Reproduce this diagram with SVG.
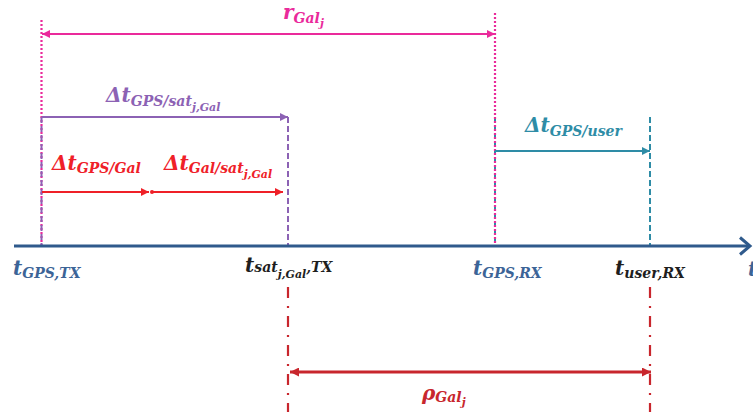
<svg xmlns="http://www.w3.org/2000/svg" width="753" height="412" viewBox="0 0 753 412">
<style>
.m{font-family:"DejaVu Serif","Liberation Serif",serif;font-weight:bold;font-style:italic;font-size:20px}
.s{font-size:14px}
.ss{font-size:11px}
.pink{stroke:#ea2a9b;fill:none}
.purple{stroke:#8c62b4;fill:none}
.red{stroke:#ef2028;fill:none}
.teal{stroke:#2e8ca6;fill:none}
.dred{stroke:#c8262d;fill:none}
.dot{stroke-width:2.2;stroke-dasharray:2 2}
.dash{stroke-width:2;stroke-dasharray:6 3}
.dd{stroke-width:2.2;stroke-dasharray:11 8 2 8}
.arr{stroke-width:2}
</style>
<defs>
<marker id="hPink" viewBox="0 0 10 10" refX="10" refY="5" markerWidth="9" markerHeight="8" markerUnits="userSpaceOnUse" orient="auto-start-reverse"><path d="M0,0 L10,5 L0,10 z" fill="#ea2a9b"/></marker>
<marker id="hPurple" viewBox="0 0 10 10" refX="10" refY="5" markerWidth="9" markerHeight="8" markerUnits="userSpaceOnUse" orient="auto-start-reverse"><path d="M0,0 L10,5 L0,10 z" fill="#8c62b4"/></marker>
<marker id="hRed" viewBox="0 0 10 10" refX="10" refY="5" markerWidth="9" markerHeight="8" markerUnits="userSpaceOnUse" orient="auto-start-reverse"><path d="M0,0 L10,5 L0,10 z" fill="#ef2028"/></marker>
<marker id="hTeal" viewBox="0 0 10 10" refX="10" refY="5" markerWidth="9" markerHeight="8" markerUnits="userSpaceOnUse" orient="auto-start-reverse"><path d="M0,0 L10,5 L0,10 z" fill="#2e8ca6"/></marker>
<marker id="hDred" viewBox="0 0 10 10" refX="10" refY="5" markerWidth="10" markerHeight="9" markerUnits="userSpaceOnUse" orient="auto-start-reverse"><path d="M0,0 L10,5 L0,10 z" fill="#c8262d"/></marker>
</defs>
<rect width="753" height="412" fill="#fff"/>

<g id="guides">
<line class="pink dot" x1="41.5" y1="20" x2="41.5" y2="246"/>
<line class="purple dash" x1="41.5" y1="117" x2="41.5" y2="246"/>
<line class="purple dash" x1="288" y1="117" x2="288" y2="246"/>
<line class="pink dot" x1="495" y1="13" x2="495" y2="246"/>
<line class="teal" stroke-width="2" stroke-dasharray="2 6" x1="495" y1="119" x2="495" y2="246"/>
<line class="teal dash" x1="650" y1="117" x2="650" y2="246"/>
<line class="dred dd" x1="288" y1="287" x2="288" y2="412"/>
<line class="dred dd" x1="650" y1="287" x2="650" y2="412"/>
</g>

<g id="axis">
<line x1="14" y1="246" x2="749" y2="246" stroke="#2f5a8c" stroke-width="3"/>
<polyline points="740,237.5 750,246 740,254.5" fill="none" stroke="#2f5a8c" stroke-width="3"/>
</g>

<g id="connectors">
<line class="pink arr" x1="42" y1="34" x2="495" y2="34" marker-start="url(#hPink)" marker-end="url(#hPink)"/>
<line class="purple arr" x1="42" y1="117" x2="288" y2="117" marker-end="url(#hPurple)"/>
<line class="red arr" x1="42" y1="192" x2="149" y2="192" marker-end="url(#hRed)"/>
<line class="red arr" x1="152" y1="192" x2="283" y2="192" marker-end="url(#hRed)"/>
<circle cx="152" cy="192" r="2" fill="#ef2028"/>
<line class="teal arr" x1="495" y1="151" x2="650" y2="151" marker-end="url(#hTeal)"/>
<line class="dred" stroke-width="3" x1="290" y1="372" x2="651" y2="372" marker-start="url(#hDred)" marker-end="url(#hDred)"/>
</g>

<g id="labels">
<text class="m" x="283" y="19" fill="#ea2a9b">r<tspan class="s" font-size="13" dy="4">Gal</tspan><tspan class="ss" font-size="10" dy="4">j</tspan></text>
<text class="m" x="106" y="102" fill="#8c62b4">Δt<tspan class="s" dy="4">GPS/sat</tspan><tspan class="ss" dy="5">j,Gal</tspan></text>
<text class="m" x="52" y="170" fill="#ef2028">Δt<tspan class="s" dy="3">GPS/Gal</tspan></text>
<text class="m" x="164" y="170" fill="#ef2028">Δt<tspan class="s" dy="3">Gal/sat</tspan><tspan class="ss" dy="5">j,Gal</tspan></text>
<text class="m" x="525" y="132" fill="#2e8ca6">Δt<tspan class="s" dy="4">GPS/user</tspan></text>
<text class="m" x="13" y="275" fill="#3c6497">t<tspan class="s" dy="3">GPS,TX</tspan></text>
<text class="m" x="245" y="272" fill="#1e1e1e">t<tspan class="s" dy="0">sat</tspan><tspan class="ss" dy="6">j,Gal</tspan><tspan class="s" dy="-6">,TX</tspan></text>
<text class="m" x="473" y="275" fill="#3c6497">t<tspan class="s" dy="3">GPS,RX</tspan></text>
<text class="m" x="615" y="275" fill="#1e1e1e">t<tspan class="s" dy="3">user,RX</tspan></text>
<text class="m" x="748" y="276" fill="#3c6497">t</text>
<text class="m" x="422" y="400" fill="#c8262d">ρ<tspan class="s" font-size="13" dy="2">Gal</tspan><tspan class="ss" font-size="10" dy="4">j</tspan></text>
</g>
</svg>
